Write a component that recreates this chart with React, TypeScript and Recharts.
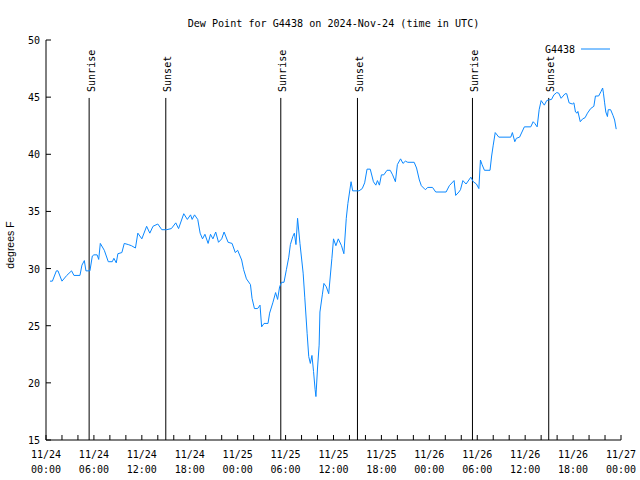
import { LineChart, Line, XAxis, YAxis, ReferenceLine } from 'recharts';

// hours since 2024-11-24 00:00 UTC
const hours = [
  0.5, 0.8, 1.3, 1.5, 2.0, 2.6, 3.2, 3.5, 4.25, 4.5, 4.8, 5.0, 5.5, 5.8, 6.0, 6.4, 6.6, 6.8, 7.3, 7.8,
  8.3, 8.5, 8.8, 9.0, 9.5, 9.8, 10.3, 10.7, 11.2, 11.5, 12.0, 12.6, 13.0, 13.4, 14.0, 14.5, 15.1, 15.7,
  16.25, 16.6, 17.25, 17.7, 18.1, 18.3, 18.6, 19.0, 19.3, 19.6, 19.9, 20.3, 20.6, 20.9, 21.25, 21.6,
  22.0, 22.3, 22.8, 23.3, 23.7, 24.0, 24.5, 24.75, 25.1, 25.6, 25.8, 26.1, 26.5, 26.8, 27.0, 27.3,
  27.8, 28.0, 28.4, 28.75, 29.0, 29.25, 29.5, 29.8, 30.1, 30.4, 30.6, 30.9, 31.1, 31.3, 31.5, 31.8,
  32.2, 32.4, 32.7, 32.9, 33.1, 33.3, 33.5, 33.7, 33.8, 34.0, 34.2, 34.3, 34.6, 34.8, 35.1, 35.4,
  35.8, 36.0, 36.3, 36.6, 37.0, 37.3, 37.6, 37.8, 38.2, 38.4, 39.2, 39.6, 39.9, 40.2, 40.6, 41.0,
  41.3, 41.5, 41.75, 42.0, 42.3, 42.7, 43.1, 43.4, 43.75, 44.0, 44.4, 44.7, 45.0, 45.3, 46.1, 46.4,
  46.75, 47.0, 47.5, 47.8, 48.4, 48.8, 50.1, 50.5, 51.1, 51.3, 51.7, 51.9, 52.2, 52.6, 53.2, 53.5,
  53.9, 54.2, 54.4, 54.6, 54.9, 55.6, 55.8, 56.0, 56.25, 56.7, 58.2, 58.4, 58.7, 58.9, 59.3, 59.9,
  60.7, 61.0, 61.2, 61.5, 61.75, 62.0, 62.4, 62.7, 62.9, 63.3, 63.6, 63.95, 64.2, 64.5, 65.0, 65.2,
  65.5, 65.9, 66.1, 66.3, 66.5, 66.6, 66.9, 67.2, 67.5, 67.8, 68.2, 68.6, 68.8, 69.2, 69.5, 69.7,
  69.8, 69.95, 70.1, 70.3, 70.4, 70.7, 71.0, 71.2, 71.4,
];

const dewPoint = [
  28.9, 28.9, 29.8, 29.8, 28.9, 29.4, 29.8, 29.4, 29.4, 30.3, 30.7, 29.8, 29.8, 31.1, 31.2, 31.2, 30.8, 32.2, 31.6, 30.6,
  30.6, 30.9, 30.5, 31.3, 31.4, 32.2, 32.1, 32.0, 31.8, 33.1, 32.6, 33.7, 33.1, 33.7, 33.9, 33.4, 33.4, 33.5,
  34.0, 33.5, 34.8, 34.3, 34.7, 34.3, 34.7, 34.3, 33.1, 32.6, 33.0, 32.2, 33.0, 32.6, 33.2, 32.3,
  32.6, 33.2, 32.3, 32.2, 31.4, 31.6, 30.75, 29.9, 29.1, 28.6, 27.4, 26.5, 26.5, 26.8, 24.9, 25.2,
  25.2, 26.1, 27.0, 27.9, 27.3, 28.4, 28.8, 28.8, 29.9, 31.0, 32.1, 32.8, 33.1, 32.1, 34.4, 32.2,
  29.6, 27.5, 24.3, 22.3, 21.7, 22.4, 21.0, 19.4, 18.8, 21.3, 23.3, 26.2, 27.7, 28.7, 28.4, 27.8,
  30.9, 32.6, 32.0, 32.6, 32.0, 31.3, 34.4, 35.7, 37.6, 36.8, 36.8, 37.0, 37.5, 38.7, 38.7, 37.6,
  37.3, 37.7, 37.3, 38.2, 38.2, 38.6, 38.6, 38.2, 37.6, 39.1, 39.6, 39.2, 39.4, 39.3, 39.3, 38.8,
  37.75, 37.25, 36.9, 37.1, 37.1, 36.7, 36.7, 37.25, 37.7, 36.4, 36.7, 36.9, 37.7, 37.4, 38.0, 37.6,
  37.4, 37.0, 39.5, 39.1, 38.6, 38.6, 39.85, 40.8, 41.9, 41.5, 41.5, 41.9, 41.1, 41.4, 41.5, 42.4,
  42.4, 42.85, 42.7, 42.4, 43.9, 44.7, 44.3, 44.7, 44.75, 44.8, 45.2, 45.4, 45.35, 44.9, 45.3, 45.3,
  44.5, 44.4, 44.5, 43.7, 43.6, 43.75, 42.85, 43.1, 43.2, 43.6, 44.0, 44.2, 45.1, 45.1, 45.5, 45.8,
  45.35, 44.5, 43.7, 43.3, 43.9, 43.9, 43.4, 43.0, 42.2,
];

const sunriseHours = [5.4, 29.4, 53.4];
const sunsetHours = [15.0, 39.0, 62.95];
const xTicks = [0, 2, 4, 6, 8, 10, 12, 14, 16, 18, 20, 22, 24, 26, 28, 30, 32, 34, 36, 38, 40, 42, 44, 46, 48, 50, 52, 54, 56, 58, 60, 62, 64, 66, 68, 70, 72];
const yTicks = [15, 20, 25, 30, 35, 40, 45, 50];
const markerTop = 44.93; // where the sunrise / sunset lines start

const data = hours.map((h, i) => ({ h, dew: dewPoint[i] }));

const MONO = '"DejaVu Sans Mono", monospace';
const SANS = '"Liberation Sans", Arial, sans-serif';
const LINE_COLOR = '#0a88ff';

const pad = (n: number) => String(n).padStart(2, '0');

function BottomTick({ x, y, payload }: any) {
  const v = payload.value;
  return (
    <g>
      <line x1={x} y1={y} x2={x} y2={y - 5} stroke="#000" />
      {v % 6 === 0 && (
        <text textAnchor="middle" fontFamily={MONO} fontSize={10} fill="#000">
          <tspan x={x} y={y + 18}>{`11/${24 + Math.floor(v / 24)}`}</tspan>
          <tspan x={x} y={y + 33}>{`${pad(v % 24)}:00`}</tspan>
        </text>
      )}
    </g>
  );
}

function TopTick({ x, y }: any) {
  return <line x1={x} y1={y} x2={x} y2={y + 5} stroke="#000" />;
}

function LeftTick({ x, y, payload }: any) {
  return (
    <g>
      <line x1={x} y1={y} x2={x + 5} y2={y} stroke="#000" />
      <text x={x - 6} y={y + 4} textAnchor="end" fontFamily={MONO} fontSize={10} fill="#000">
        {payload.value}
      </text>
    </g>
  );
}

function RightTick({ x, y }: any) {
  return <line x1={x} y1={y} x2={x - 5} y2={y} stroke="#000" />;
}

function SunLabel({ viewBox, text }: any) {
  if (!viewBox) return null;
  const px = viewBox.x + 5.5;
  const py = viewBox.y - 6;
  return (
    <text
      x={px}
      y={py}
      transform={`rotate(-90 ${px} ${py})`}
      textAnchor="start"
      fontFamily={MONO}
      fontSize={10}
      fill="#000"
    >
      {text}
    </text>
  );
}

export default function App() {
  const sunLines = [
    ...sunriseHours.map((h) => ({ h, text: 'Sunrise' })),
    ...sunsetHours.map((h) => ({ h, text: 'Sunset' })),
  ];

  return (
    <div style={{ position: 'absolute', left: 0, top: 0, width: 640, height: 480, background: '#fff' }}>
      <LineChart width={640} height={480} data={data} margin={{ top: 40, right: 19, bottom: 0, left: 0 }}>
        <XAxis
          xAxisId="b"
          dataKey="h"
          type="number"
          domain={[0, 72]}
          ticks={xTicks}
          interval={0}
          height={40}
          tickSize={0}
          tickMargin={0}
          tickLine={false}
          axisLine={{ stroke: '#000' }}
          tick={<BottomTick />}
          allowDataOverflow
        />
        <XAxis
          xAxisId="t"
          orientation="top"
          type="number"
          domain={[0, 72]}
          ticks={xTicks}
          interval={0}
          height={0}
          tickSize={0}
          tickMargin={0}
          tickLine={false}
          axisLine={{ stroke: '#000' }}
          tick={<TopTick />}
          allowDataOverflow
        />
        <YAxis
          yAxisId="l"
          type="number"
          domain={[15, 50]}
          ticks={yTicks}
          interval={0}
          width={46}
          tickSize={0}
          tickMargin={0}
          tickLine={false}
          axisLine={{ stroke: '#000' }}
          tick={<LeftTick />}
          allowDataOverflow
        />
        <YAxis
          yAxisId="r"
          orientation="right"
          type="number"
          domain={[15, 50]}
          ticks={yTicks}
          interval={0}
          width={0}
          tickSize={0}
          tickMargin={0}
          tickLine={false}
          axisLine={{ stroke: '#000' }}
          tick={<RightTick />}
          allowDataOverflow
        />
        {sunLines.map((s) => (
          <ReferenceLine
            key={`${s.text}-${s.h}`}
            xAxisId="b"
            yAxisId="l"
            segment={[
              { x: s.h, y: markerTop },
              { x: s.h, y: 15 },
            ]}
            stroke="#000"
            strokeWidth={1}
            label={(p: any) => <SunLabel viewBox={p.viewBox} text={s.text} />}
          />
        ))}
        <Line
          xAxisId="b"
          yAxisId="l"
          type="linear"
          dataKey="dew"
          stroke={LINE_COLOR}
          strokeWidth={1}
          dot={false}
          isAnimationActive={false}
        />
      </LineChart>
      <svg width={640} height={480} style={{ position: 'absolute', left: 0, top: 0, pointerEvents: 'none' }}>
        <text x={333.5} y={27} textAnchor="middle" fontFamily={MONO} fontSize={10.1} fill="#000">
          Dew Point for G4438 on 2024-Nov-24 (time in UTC)
        </text>
        <text
          x={14}
          y={245}
          transform="rotate(-90 14 245)"
          textAnchor="middle"
          fontFamily={SANS}
          fontSize={10.5}
          fill="#000"
        >
          degrees F
        </text>
        <text x={575} y={53} textAnchor="end" fontFamily={MONO} fontSize={10} fill="#000">
          G4438
        </text>
        <line x1={581} y1={49} x2={610} y2={49} stroke={LINE_COLOR} strokeWidth={1} />
      </svg>
    </div>
  );
}
